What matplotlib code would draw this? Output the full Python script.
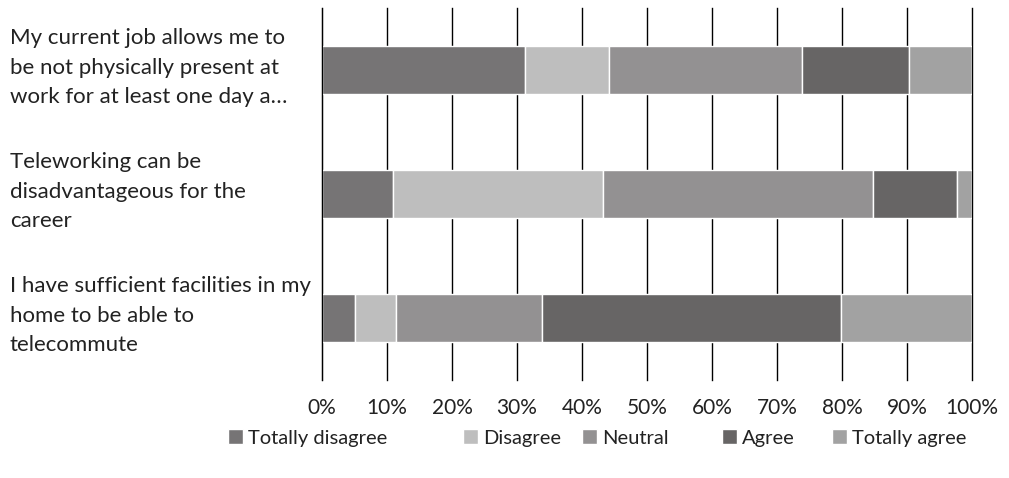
import matplotlib.pyplot as plt
import matplotlib.transforms as mtransforms
import numpy as np

# ---------------- DATA ----------------

questions = [
    "My current job allows me to\nbe not physically present at\nwork for at least one day a\u2026",
    "Teleworking can be\ndisadvantageous for the\ncareer",
    "I have sufficient facilities in my\nhome to be able to\ntelecommute",
]
answers = ["Totally disagree", "Disagree", "Neutral", "Agree", "Totally agree"]

totally_disagree = [31.2, 10.9, 5.1]
disagree = [12.9, 32.4, 6.3]
neutral = [29.7, 41.5, 22.5]
agree = [16.5, 12.9, 46.0]
totally_agree = [9.7, 2.3, 20.1]

colors = ["#767475", "#bebebe", "#939192", "#676565", "#a2a2a2"]

# ---------------- PLOTTING ----------------

plt.rcParams["font.family"] = ["Lato", "DejaVu Sans"]

fig = plt.figure(figsize=(10.09, 4.78), dpi=100)
ax = fig.add_axes([322 / 1009, 1 - 380 / 478, 650 / 1009, 372 / 478])

series = [totally_disagree, disagree, neutral, agree, totally_agree]
y = np.arange(len(questions))
left = np.zeros(len(questions))
bars = []
for name, vals, col in zip(answers, series, colors):
    b = ax.barh(y, vals, left=left, height=0.39, color=col, edgecolor="white",
                linewidth=1, label=name)
    bars.append(b)
    left += np.array(vals)

ax.set_xlim(0, 100)
ax.set_ylim(len(questions) - 0.5, -0.5)
ax.set_xticks(range(0, 101, 10))
ax.set_xticklabels([f"{v}%" for v in range(0, 101, 10)], fontsize=15, color="#222222")
ax.tick_params(axis="x", length=0, pad=13)
ax.set_yticks([])
ax.set_axisbelow(True)
ax.xaxis.grid(True, color="black", linewidth=1)
for gl in ax.get_xgridlines():
    gl.set_clip_on(False)

for s in ["top", "right", "bottom"]:
    ax.spines[s].set_visible(False)
ax.spines["left"].set_color("black")

trans = mtransforms.blended_transform_factory(fig.transFigure, ax.transData)
for i, q in enumerate(questions):
    ax.text(10 / 1009, i - 0.02, q, transform=trans, ha="left", va="center",
            fontsize=16, linespacing=1.6, color="#222222")

# one legend per entry so the spacing matches the original
legend_x = [228, 463, 582, 722, 832]
for b, name, lx in zip(bars, answers, legend_x):
    leg = fig.legend(handles=[b], labels=[name], loc="center left",
                     bbox_to_anchor=(lx / 1009, 1 - 438 / 478), frameon=False,
                     fontsize=14.5, handlelength=0.75, handleheight=0.75,
                     handletextpad=0.25, borderpad=0, borderaxespad=0,
                     labelcolor="#222222")

plt.savefig("out.png", dpi=100)
